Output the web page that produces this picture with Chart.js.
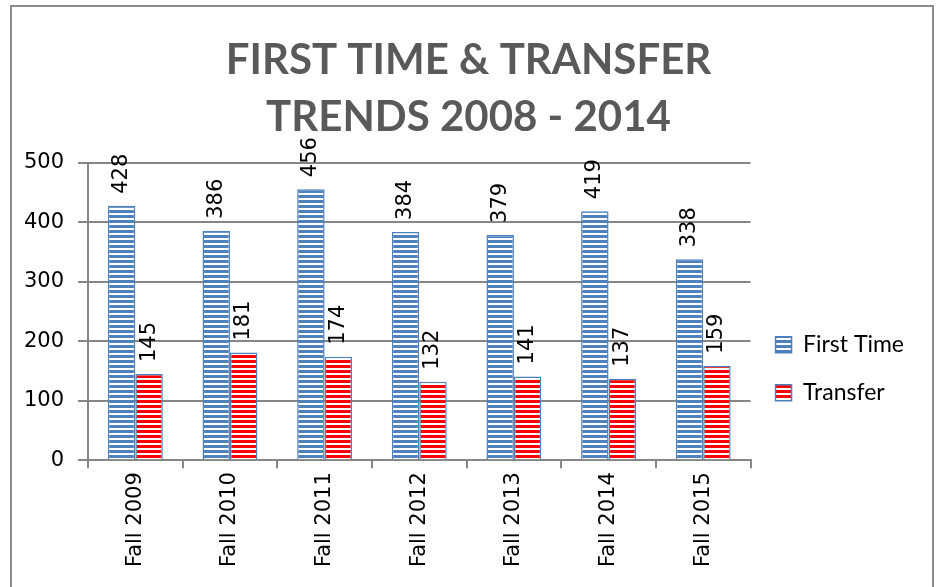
<!DOCTYPE html>
<html>
<head>
<meta charset="utf-8">
<script src="https://cdn.jsdelivr.net/npm/chart.js"></script>
<style>
  html, body { margin: 0; padding: 0; background: #fff; overflow: hidden; }
  #frame { position: absolute; left: 10px; top: 5px; width: 920px; height: 640px; border: 2px solid #8c8c8c; }
  #wrap { position: absolute; left: 0; top: 0; width: 936px; height: 587px; }
</style>
</head>
<body>
<div id="frame"></div>
<div id="wrap"><canvas id="myChart" width="936" height="587"></canvas></div>
<script>
const categories = ["Fall 2009", "Fall 2010", "Fall 2011", "Fall 2012", "Fall 2013", "Fall 2014", "Fall 2015"];
const firstTime = [428, 386, 456, 384, 379, 419, 338];
const transfer = [145, 181, 174, 132, 141, 137, 159];
const titleLines = ["FIRST TIME & TRANSFER", "TRENDS 2008 - 2014"];

// horizontal stripe fills like the original
function stripes(color) {
  const c = document.createElement("canvas");
  c.width = 4;
  c.height = 5;
  const g = c.getContext("2d");
  g.fillStyle = "#fff";
  g.fillRect(0, 0, 4, 5);
  g.fillStyle = color;
  g.fillRect(0, 0, 4, 3);
  return g.createPattern(c, "repeat");
}

const labelFont = "21px 'DejaVu Sans'";

// values above the bars, turned on their side
const barLabels = {
  id: "barLabels",
  afterDatasetsDraw(chart) {
    const ctx = chart.ctx;
    ctx.save();
    ctx.font = labelFont;
    ctx.fillStyle = "#000";
    ctx.textAlign = "left";
    ctx.textBaseline = "middle";
    chart.data.datasets.forEach((ds, i) => {
      chart.getDatasetMeta(i).data.forEach((bar, j) => {
        ctx.save();
        ctx.translate(bar.x, bar.y - 12);
        ctx.rotate(-Math.PI / 2);
        ctx.fillText(String(ds.data[j]), 0, 0);
        ctx.restore();
      });
    });
    ctx.restore();
  }
};

const ctx = document.getElementById("myChart").getContext("2d");

new Chart(ctx, {
  type: "bar",
  data: {
    labels: categories,
    datasets: [{
      label: "First Time",
      data: firstTime,
      backgroundColor: stripes("#4F81BD"),
      borderColor: "#4F81BD",
      borderWidth: 1.5
    }, {
      label: "Transfer",
      data: transfer,
      backgroundColor: stripes("#FF0000"),
      borderColor: "#4F81BD",
      borderWidth: 1.5
    }]
  },
  options: {
    responsive: false,
    animation: false,
    layout: { padding: { left: 23, right: 22, top: 0, bottom: 16 } },
    datasets: {
      bar: { categoryPercentage: 0.58, barPercentage: 1 }
    },
    plugins: {
      tooltip: { enabled: false },
      title: {
        display: true,
        text: titleLines,
        color: "#595959",
        font: { family: "Lato", weight: "bold", size: 42, lineHeight: 1.357 },
        padding: { top: 32, bottom: 17 }
      },
      legend: {
        position: "right",
        // empty legend title only pushes the items down to where they sit in the original
        title: { display: true, text: "", padding: { top: 152, bottom: 0 } },
        labels: {
          color: "#000",
          font: { family: "Lato", size: 23 },
          boxWidth: 16,
          boxHeight: 16,
          padding: 25
        }
      }
    },
    scales: {
      x: {
        grid: { drawOnChartArea: false, color: "#868686", lineWidth: 2, tickLength: 8 },
        border: { color: "#868686", width: 2 },
        ticks: { color: "#000", font: { family: "DejaVu Sans", size: 21 }, minRotation: 90, maxRotation: 90, padding: 4 }
      },
      y: {
        min: 0,
        max: 500,
        ticks: { stepSize: 100, color: "#000", font: { family: "DejaVu Sans", size: 21 }, padding: 14 },
        grid: { color: "#868686", lineWidth: 2, tickLength: 10 },
        border: { color: "#868686", width: 2 },
        afterFit(scale) { scale.width = 65; }
      }
    }
  },
  plugins: [barLabels]
});
</script>
</body>
</html>
